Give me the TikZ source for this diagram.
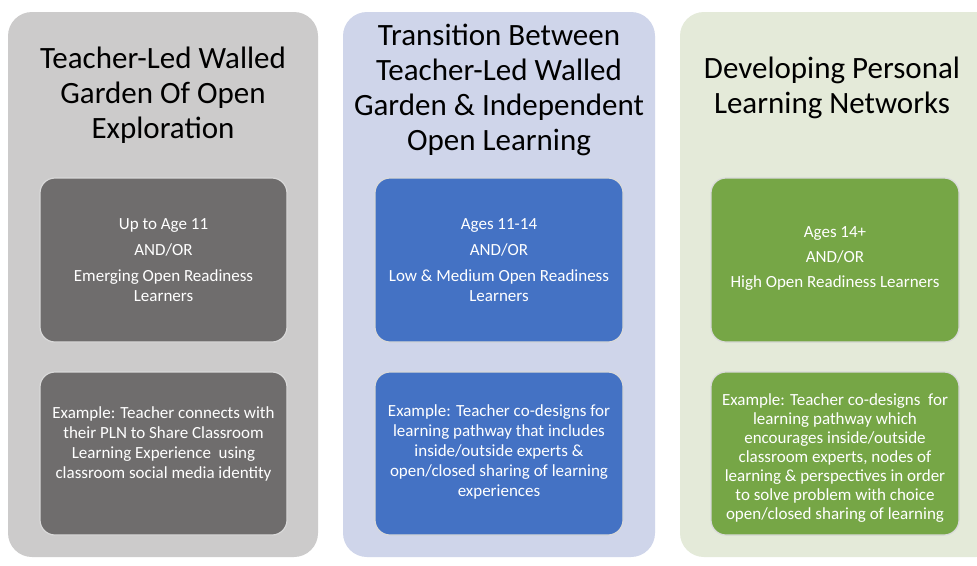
\documentclass[tikz,border=0pt]{standalone}
\usepackage{fontspec}
\setmainfont{Carlito}
\begin{document}
\begin{tikzpicture}[x=1pt,y=-1pt,
  panel/.style={rounded corners=24pt, draw=none},
  inner/.style={rounded corners=15pt, draw=white!85!black, line width=1.2pt},
  title/.style={align=center, font=\fontsize{31}{35}\selectfont, text=black},
  body/.style={align=center, font=\fontsize{17}{20}\selectfont, text=white}]
\definecolor{pgray}{HTML}{CCCBCB}
\definecolor{dgray}{HTML}{6F6D6D}
\definecolor{pblue}{HTML}{CFD5EA}
\definecolor{dblue}{HTML}{4472C4}
\definecolor{pgreen}{HTML}{E4EAD9}
\definecolor{dgreen}{HTML}{76A646}
\useasboundingbox[fill=white] (0,0) rectangle (977,565);
% panels
\path[panel, fill=pgray] (8,12) rectangle (318,557);
\path[panel, fill=pblue] (343,12) rectangle (655,557);
\path[panel, fill=pgreen] (680,12) rectangle (1000,557);
% inner boxes
\path[inner, fill=dgray] (40,178) rectangle (287,342);
\path[inner, fill=dgray] (40,372) rectangle (287,535);
\path[inner, fill=dblue] (375,178) rectangle (623,342);
\path[inner, fill=dblue] (375,372) rectangle (623,535);
\path[inner, fill=dgreen] (711,178) rectangle (959,342);
\path[inner, fill=dgreen] (711,372) rectangle (959,535);
% titles
\node[title] (t1) at (163,95) {Teacher-Led Walled\\Garden Of Open\\Exploration};
\node[title] (t2) at (499,90) {Transition Between\\Teacher-Led Walled\\Garden \& Independent\\Open Learning};
\node[title] (t3) at (832,88) {Developing Personal\\Learning Networks};
% texts
\node[body] (a1) at (163.5,260) {Up to Age 11\\[6pt]AND/OR\\[6pt]Emerging Open Readiness\\Learners};
\node[body] (b1) at (163.5,444) {Example: Teacher connects with\\their PLN to Share Classroom\\Learning Experience\ \ using\\classroom social media identity};
\node[body] (a2) at (499,260) {Ages 11-14\\[6pt]AND/OR\\[6pt]Low \& Medium Open Readiness\\Learners};
\node[body] (b2) at (499,452) {Example: Teacher co-designs for\\learning pathway that includes\\inside/outside experts \&\\open/closed sharing of learning\\experiences};
\node[body, font=\fontsize{17}{19}\selectfont] (a3) at (835,258) {Ages 14+\\[6pt]AND/OR\\[6pt]High Open Readiness Learners};
\node[body, font=\fontsize{17}{19}\selectfont] (b3) at (835,458) {Example: Teacher co-designs\ \ for\\learning pathway which\\encourages inside/outside\\classroom experts, nodes of\\learning \& perspectives in order\\to solve problem with choice\\open/closed sharing of learning};
\end{tikzpicture}
\end{document}
